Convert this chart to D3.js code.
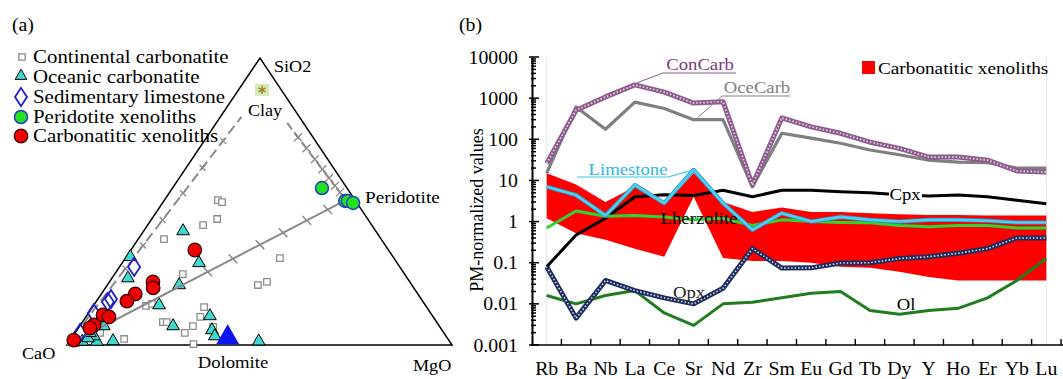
<!DOCTYPE html>
<html><head><meta charset="utf-8">
<script src="https://cdn.jsdelivr.net/npm/d3@7"></script>
<style>body{margin:0;background:#fff}svg{display:block}</style>
</head><body><svg id="c" width="1063" height="379"></svg>
<script>
// ---------- Panel (a) data: ternary compositions [CaO, SiO2, MgO] ----------
const contCarb = [[35.6,50.5,13.9],[34.9,49.8,15.3],[43.8,41.8,14.4],[39.1,43.9,17.0],[56.4,36.9,6.7],[29.6,30.3,40.1],[57.6,24.7,17.7],[40.0,20.9,39.1],[37.1,22.0,40.9],[72.7,13.6,13.7],[70.8,14.3,14.9],[57.8,13.2,29.0],[60.5,9.8,29.7],[71.1,8.0,20.9],[70.1,8.0,21.9],[64.0,6.6,29.4],[67.3,4.2,28.5],[58.9,6.3,34.8],[84.1,2.1,13.8],[67,0.3,32.7],[97.3,0.7,2.0],[89.3,4.2,6.5]];
const oceCarbT = [[50.4,39.0,10.6],[51.8,27.9,20.3],[68.6,30.0,1.4],[72.9,22.6,4.5],[60.8,20.2,19.0],[69.5,13.2,17.3],[69.5,5.9,24.6],[58.2,9.4,32.4],[60.1,4.5,35.4],[60.4,2.4,37.2],[49.9,0.6,49.5],[87.5,5.9,6.6],[87.7,0.7,11.6],[92,0.5,7.5],[95.8,0.5,3.7],[91.8,2.4,5.8],[93.7,1.7,4.6],[92.3,3.5,4.2]];
const sedLime = [[69.0,27.2,3.8],[80.6,16.0,3.4],[81.9,15.0,3.1],[87.5,11.1,1.4],[94.5,4.2,1.3]];
const periXeno = [[6.5,54.7,38.8],[2.7,50.2,47.1],[2.0,50.2,47.8],[1.0,49.5,49.5]];
const carbXeno = [[50.3,33.1,16.6],[66.7,22.0,11.3],[67.7,19.9,12.4],[73.4,17.8,8.8],[76.8,15.3,7.9],[85.4,10.5,4.1],[84.2,9.8,6.0],[89.5,7.0,3.5],[91.1,5.9,3.0],[97.4,1.7,0.9]];
const dolomite = [58.3,0.5,41.7];
const clay = [5.0,88.9,6.1];
const peridotite = [2.4,50.5,47.1];
const cao = [100,0,0];
const mixCaoPeri = [0.505,0.595,0.692,0.775,0.86,0.935];
const mixCaoClay = [0.30,0.39,0.49,0.595,0.695,0.80];
const mixCaoClayEnd = 0.894;
const mixClayPeri = [0.43,0.53,0.63,0.72,0.80,0.87,0.93];
const mixClayPeriStart = 0.30;
const legendA = ["Continental carbonatite","Oceanic carbonatite","Sedimentary limestone","Peridotite xenoliths","Carbonatitic xenoliths"];

// ---------- Panel (b) data ----------
const elements = ["Rb","Ba","Nb","La","Ce","Sr","Nd","Zr","Sm","Eu","Gd","Tb","Dy","Y","Ho","Er","Yb","Lu"];
const conCarb  = [26,510,1070,2100,1400,760,820,7.7,330,200,140,85,60,37,37,31,17,16];
const oceCarb  = [15,610,175,800,560,300,300,7,140,107,80,55,42,31,28,27,20,20];
const limestone= [7,4.4,1.4,7.7,2.8,18,2.8,0.63,1.6,1.0,1.3,1.1,1.0,1.1,1.1,1.05,0.95,0.95];
const lherzolite=[0.7,1.8,1.35,1.4,1.3,1.1,1.2,0.8,1.1,1.0,0.95,0.93,0.8,0.75,0.8,0.8,0.7,0.7];
const cpx      = [0.08,0.47,1.2,4,4.5,4.3,5.8,4,5.8,5.8,5.3,5,4.5,4.2,4.4,4,3.3,2.7];
const opx      = [0.08,0.0045,0.037,0.021,0.014,0.01,0.024,0.22,0.074,0.075,0.098,0.1,0.126,0.14,0.17,0.22,0.4,0.4];
const ol       = [0.016,0.01,0.016,0.021,0.006,0.003,0.01,0.011,0.014,0.018,0.02,0.0069,0.0056,0.0069,0.0078,0.014,0.037,0.126];
const xenoUpper= [15,8,3.0,7,2.5,15,3.0,1.7,2.2,1.7,1.7,1.6,1.5,1.45,1.45,1.4,1.4,1.4];
const xenoLower= [1.2,0.52,0.36,0.22,0.14,4,0.13,0.11,0.11,0.1,0.08,0.075,0.06,0.045,0.037,0.037,0.037,0.037];
const yTicks = [0.001,0.01,0.1,1,10,100,1000,10000];
const yTickLabels = ["0.001","0.01","0.1","1","10","100","1000","10000"];

const svg = d3.select("#c");
const FONT = "Liberation Serif";
const SX = 1.1; // horizontal stretch of the reference typography
function txt(g,str,x,y,size,anchor,fill){
  return g.append("text").attr("transform",`translate(${x},${y}) scale(${SX},1)`)
    .style("font-family",FONT).style("font-size",size+"px")
    .attr("text-anchor",anchor||"start").attr("fill",fill||"#000").text(str);
}

// ================= Panel (a) =================
const tY = d3.scaleLinear().domain([0,100]).range([345,58]);
const tXm = d3.scaleLinear().domain([0,100]).range([0,385]);
const tXs = d3.scaleLinear().domain([0,100]).range([0,193]);
function proj(p){const t=p[0]+p[1]+p[2];const s=p[1]*100/t,m=p[2]*100/t;return [67+tXm(m)+tXs(s),tY(s)];}
function mix(a,b,f){return a.map((v,i)=>v*(1-f)+b[i]*f);}
const A = svg.append("g");
txt(A,"(a)",12,31,18);

A.append("path").attr("d",d3.line()([proj([100,0,0]),proj([0,100,0]),proj([0,0,100])])+"Z")
 .attr("fill","none").attr("stroke","#000").attr("stroke-width",1.5);

const gray="#8a8a8a";
function xMark(g,p,sz){g.append("path").attr("d",`M${p[0]-sz},${p[1]-sz}L${p[0]+sz},${p[1]+sz}M${p[0]-sz},${p[1]+sz}L${p[0]+sz},${p[1]-sz}`).attr("stroke",gray).attr("stroke-width",1.3);}

const sq = d3.symbol().type(d3.symbolSquare).size(42);
A.append("g").selectAll("path").data(contCarb).join("path")
 .attr("transform",d=>`translate(${proj(d)})`).attr("d",sq).attr("fill","#fff").attr("stroke","#8c8c8c").attr("stroke-width",1.3);
const tri = d3.symbol().type(d3.symbolTriangle).size(70);
A.append("g").selectAll("path").data(oceCarbT).join("path")
 .attr("transform",d=>{const p=proj(d);return `translate(${p[0]},${p[1]-2})`;}).attr("d",tri).attr("fill","#3fd9d2").attr("stroke","#000").attr("stroke-width",1);

const lineCP=[cao,peridotite].map(proj);
A.append("path").attr("d",d3.line()(lineCP)).attr("stroke",gray).attr("stroke-width",2).attr("fill","none");
mixCaoPeri.forEach(f=>{const p=proj(mix(cao,peridotite,f));const ang=Math.atan2(lineCP[1][1]-lineCP[0][1],lineCP[1][0]-lineCP[0][0])+Math.PI/2;
 A.append("path").attr("d",`M${p[0]-5*Math.cos(ang)-2},${p[1]-5*Math.sin(ang)}L${p[0]+5*Math.cos(ang)+2},${p[1]+5*Math.sin(ang)}`).attr("stroke",gray).attr("stroke-width",1.5);});
A.append("path").attr("d",d3.line()([proj(mix(cao,clay,0.08)),proj(mix(cao,clay,mixCaoClayEnd))])).attr("stroke",gray).attr("stroke-width",2).attr("stroke-dasharray","10,5").attr("fill","none");
mixCaoClay.forEach(f=>xMark(A,proj(mix(cao,clay,f)),3));
A.append("path").attr("d",d3.line()([proj(mix(clay,peridotite,mixClayPeriStart)),proj(peridotite)])).attr("stroke",gray).attr("stroke-width",2).attr("stroke-dasharray","8,4").attr("fill","none");
mixClayPeri.forEach(f=>xMark(A,proj(mix(clay,peridotite,f)),4));

const dia = d3.symbol().type(d3.symbolDiamond).size(95);
A.append("g").selectAll("path").data(sedLime).join("path")
 .attr("transform",d=>`translate(${proj(d)}) scale(1.15,1)`).attr("d",dia).attr("fill","none").attr("stroke","#1f1fc8").attr("stroke-width",1.6);
A.append("g").selectAll("circle").data(periXeno).join("circle")
 .attr("cx",d=>proj(d)[0]).attr("cy",d=>proj(d)[1]).attr("r",6.5).attr("fill","#22e022").attr("stroke","#1f3fc0").attr("stroke-width",1.5);
A.append("g").selectAll("circle").data(carbXeno).join("circle")
 .attr("cx",d=>proj(d)[0]).attr("cy",d=>proj(d)[1]).attr("r",6.8).attr("fill","#ee0000").attr("stroke","#300").attr("stroke-width",1.2);
{const p=proj(dolomite);A.append("path").attr("transform",`translate(${p[0]},${p[1]-6})`).attr("d",d3.symbol().type(d3.symbolTriangle).size(230)).attr("fill","#0a14f0");}
{const p=proj(clay);A.append("rect").attr("x",p[0]-7).attr("y",p[1]-6).attr("width",14).attr("height",12).attr("fill","#cfeeb0");
 A.append("path").attr("transform",`translate(${p})`).attr("d",d3.symbol().type(d3.symbolAsterisk).size(45)).attr("stroke","#b07a30").attr("stroke-width",1.5).attr("fill","none");}

txt(A,"SiO2",274,72,16.5);
txt(A,"Clay",265,116,16.5,"middle");
txt(A,"Peridotite",365,203,17.5);
txt(A,"Dolomite",233,368,17,"middle");
txt(A,"CaO",22,359,16.5);
txt(A,"MgO",413,371,16.5);

const legY=[57,77,97,117,136];
const lg=A.append("g");
lg.append("path").attr("transform",`translate(22,${legY[0]})`).attr("d",d3.symbol().type(d3.symbolSquare).size(40)).attr("fill","#fff").attr("stroke","#8c8c8c").attr("stroke-width",1.3);
lg.append("path").attr("transform",`translate(21,${legY[1]-1})`).attr("d",d3.symbol().type(d3.symbolTriangle).size(60)).attr("fill","#3fd9d2").attr("stroke","#000");
lg.append("path").attr("transform",`translate(21,${legY[2]}) scale(1.15,1)`).attr("d",dia).attr("fill","none").attr("stroke","#1f1fc8").attr("stroke-width",1.6);
lg.append("circle").attr("cx",21).attr("cy",legY[3]).attr("r",6.5).attr("fill","#22e022").attr("stroke","#1f3fc0").attr("stroke-width",1.5);
lg.append("circle").attr("cx",21).attr("cy",legY[4]).attr("r",6.8).attr("fill","#ee0000").attr("stroke","#300").attr("stroke-width",1.2);
legendA.forEach((t,i)=>txt(lg,t,33,legY[i]+6,19));

// ================= Panel (b) =================
const x = d3.scaleBand().domain(elements).range([532,1061]);
const cx = e=>x(e)+x.bandwidth()/2;
const y = d3.scaleLog().domain([0.001,10000]).range([345,57]);
const B = svg.append("g");
txt(B,"(b)",459,31,18);

[elements[0],elements[elements.length-1]].forEach(e=>B.append("line").attr("x1",cx(e)).attr("x2",cx(e)).attr("y1",57).attr("y2",345).attr("stroke","#e6e6e6").attr("stroke-width",1));

const area = d3.area().x((d,i)=>cx(elements[i])).y0((d,i)=>y(xenoLower[i])).y1((d,i)=>y(xenoUpper[i]));
B.append("path").attr("d",area(elements)).attr("fill","#ff0000");

const ln = vals=>d3.line().x((d,i)=>cx(elements[i])).y(d=>y(d))(vals);
const drawLine=(vals,col,w)=>B.append("path").attr("d",ln(vals)).attr("fill","none").attr("stroke",col).attr("stroke-width",w).attr("stroke-linejoin","round");

drawLine(ol,"#1f7d1f",3);
drawLine(opx,"#1c2c5c",5);
drawLine(opx,"#d8dcf0",1.6).attr("stroke-dasharray","1.5,2");
drawLine(oceCarb,"#7f7f7f",3.2);
drawLine(conCarb,"#8c5a8c",5);
drawLine(conCarb,"#e6d2e6",1.8).attr("stroke-dasharray","1.5,2");
drawLine(cpx,"#000",3);
drawLine(lherzolite,"#2fd62f",3);
drawLine(limestone,"#2a90c0",4.2);
drawLine(limestone,"#4fd0f0",2.6);

const yAxis = d3.axisLeft(y).tickValues(yTicks).tickFormat((d,i)=>yTickLabels[i]).tickSize(0).tickPadding(0);
const ya = B.append("g").attr("transform","translate(532,0)").call(yAxis);
ya.select(".domain").attr("stroke","#000").attr("stroke-width",2);
ya.selectAll(".tick text").attr("x",null).attr("dy","0.34em")
  .attr("transform",`translate(-14,0) scale(${SX},1)`).style("font-family",FONT).style("font-size","18px").attr("fill","#000");
const minor=[];for(let e=-3;e<4;e++)for(let k=1;k<10;k++)minor.push(k*Math.pow(10,e));minor.push(10000);
const isMajor=d=>Math.abs(Math.log10(d)-Math.round(Math.log10(d)))<1e-9;
B.append("g").selectAll("line").data(minor).join("line")
 .attr("x1",d=>isMajor(d)?529:531).attr("x2",d=>isMajor(d)?539:536)
 .attr("y1",d=>y(d)).attr("y2",d=>y(d)).attr("stroke","#000").attr("stroke-width",1.5);

B.append("line").attr("x1",531).attr("x2",1063).attr("y1",345).attr("y2",345).attr("stroke","#000").attr("stroke-width",1.6);
B.append("g").selectAll("line").data(elements).join("line")
 .attr("x1",d=>x(d)+x.bandwidth()).attr("x2",d=>x(d)+x.bandwidth()).attr("y1",339).attr("y2",345).attr("stroke","#000").attr("stroke-width",1.4);
const xl=B.append("g");
elements.forEach(e=>txt(xl,e,cx(e),375,18,"middle"));

B.append("text").attr("transform","translate(483,210) rotate(-90)").attr("text-anchor","middle")
 .style("font-family",FONT).style("font-size","18px").text("PM-normalized values");

B.append("path").attr("d",`M${cx("La")+2},${y(conCarb[3])-2}L663,73L736,73`).attr("stroke","#8c5a8c").attr("stroke-width",1).attr("fill","none");
txt(B,"ConCarb",700,70,17,"middle","#7a3a7a");
B.append("path").attr("d",`M${cx("Sr")+4},${y(oceCarb[5])-2}L722,96L790,96`).attr("stroke","#7f7f7f").attr("stroke-width",1).attr("fill","none");
txt(B,"OceCarb",757,93,17,"middle","#808080");
B.append("path").attr("d",`M577,177L668,177L${cx("Sr")},${y(limestone[5])}`).attr("stroke","#3cc8ea").attr("stroke-width",1.2).attr("fill","none");
txt(B,"Limestone",628,175,17,"middle","#2cb8e0");
B.append("rect").attr("x",889).attr("y",185).attr("width",33).attr("height",18).attr("fill","#fff");
txt(B,"Cpx",905,200,17,"middle");
txt(B,"Lherzolite",699,224,17,"middle");
txt(B,"Opx",689,298,17,"middle","#222");
txt(B,"Ol",906,310,17,"middle");

B.append("rect").attr("x",862).attr("y",61).attr("width",13).attr("height",13).attr("fill","#ff0000");
txt(B,"Carbonatitic xenoliths",878,74,17.5);
</script></body></html>
